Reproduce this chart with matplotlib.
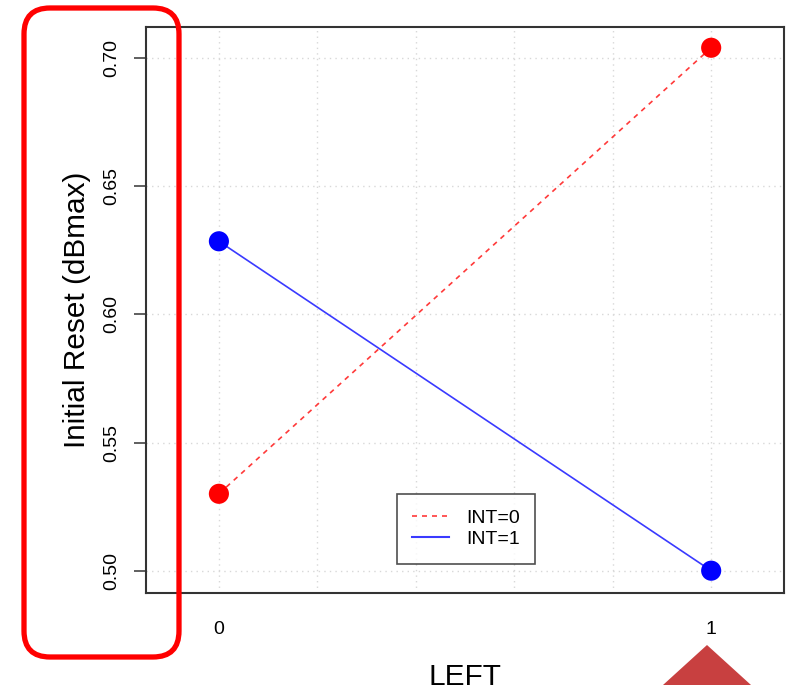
import matplotlib
matplotlib.use("Agg")
import matplotlib.pyplot as plt
from matplotlib.patches import FancyBboxPatch, Polygon
from matplotlib.lines import Line2D

plt.rcParams['font.family'] = ['Liberation Sans', 'DejaVu Sans']

# interaction means: LEFT level on x, one trace per INT level
left_levels = [0, 1]
int0_means = [0.530, 0.704]
int1_means = [0.6285, 0.500]
trace_labels = ['INT=0', 'INT=1']
yticks = [0.50, 0.55, 0.60, 0.65, 0.70]

fig = plt.figure(figsize=(7.86, 6.85), dpi=100)
ax = fig.add_axes([0.1858, 0.1347, 0.8117, 0.8259])

ax.plot(left_levels, int0_means, color='#ff3a3a', lw=1.2, ls=(0, (3, 3)), zorder=3)
ax.plot(left_levels, int1_means, color='#3a3aff', lw=1.2, zorder=3)
ax.scatter(left_levels, int0_means, s=210, color='#ff0000', zorder=4, edgecolors='none')
ax.scatter(left_levels, int1_means, s=210, color='#0000ff', zorder=4, edgecolors='none')

ax.set_xlim(-0.148, 1.148)
ax.set_ylim(0.4914, 0.7121)
ax.set_xticks([0, 0.2, 0.4, 0.6, 0.8, 1.0], ['0', '', '', '', '', '1'])
ax.set_yticks(yticks, ['%.2f' % v for v in yticks])
ax.grid(True, color='#d8d8d8', ls=(0, (1, 3)), lw=1.0)
ax.set_axisbelow(True)

ax.tick_params(axis='x', length=0, pad=20, labelsize=14)
ax.tick_params(axis='y', length=8.6, width=1.2, color='#444444', pad=10, labelsize=14)
for lab in ax.get_yticklabels():
    lab.set_rotation(90)
    lab.set_va('center')
for sp in ax.spines.values():
    sp.set_color('#333333')
    sp.set_linewidth(1.5)

ax.set_ylabel('Initial Reset (dBmax)', fontsize=21.4, labelpad=9)
ax.set_xlabel('LEFT', fontsize=21.4, labelpad=18)

handles = [Line2D([], [], color='#ff3a3a', lw=1.2, ls=(0, (3, 3))),
           Line2D([], [], color='#3a3aff', lw=1.5)]
leg = ax.legend(handles, trace_labels, loc='lower left', bbox_to_anchor=(0.378, 0.034),
                fontsize=14, frameon=True, fancybox=False, handlelength=1.9,
                borderpad=0.8, labelspacing=0.18, handletextpad=0.85)
leg.get_frame().set_edgecolor('#222222')
leg.get_frame().set_linewidth(1.2)

# highlight box around the y axis and the marker under the x label (pixel coords)
box = FancyBboxPatch((24, 28), 155, 649, boxstyle='round,pad=0,rounding_size=26',
                     transform=None, fill=False, edgecolor='#ff0000', lw=3.8, zorder=10)
fig.patches.append(box)
tri = Polygon([(663, 0), (751, 0), (707, 40)], closed=True, transform=None,
              facecolor='#c84040', edgecolor='none', zorder=10)
fig.patches.append(tri)

fig.savefig('out.png', dpi=100)
